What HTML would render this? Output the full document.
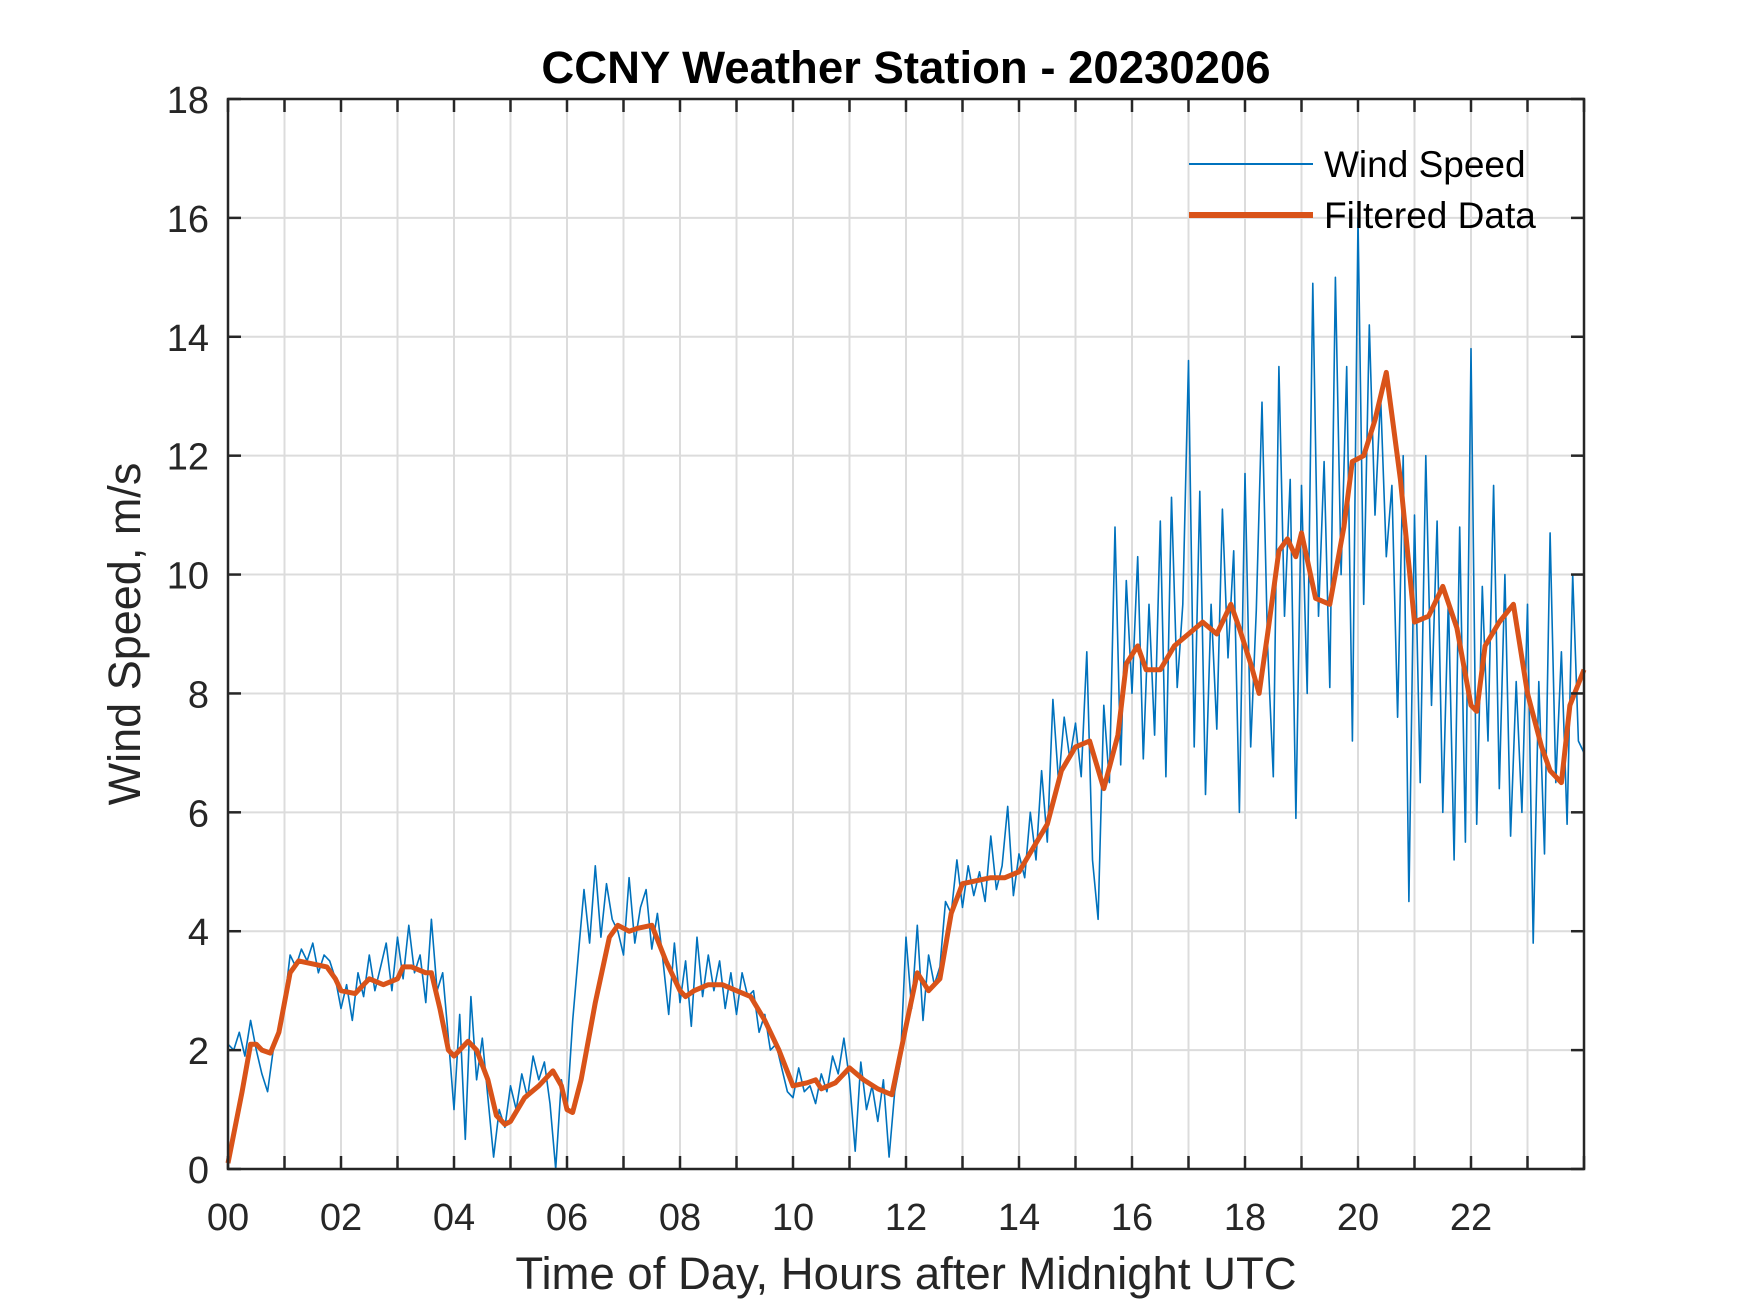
<!DOCTYPE html>
<html><head><meta charset="utf-8"><style>
html,body{margin:0;padding:0;background:#fff;}
svg{display:block;font-family:"Liberation Sans",Arial,sans-serif;}
</style></head><body>
<svg id="chart" width="1750" height="1313" viewBox="0 0 1750 1313">
<rect width="1750" height="1313" fill="#fff"/>
<g id="grid"></g>
<g id="series"></g>
<g id="axes"></g>
<text x="906" y="83" text-anchor="middle" font-size="45.5" font-weight="bold" fill="#000">CCNY Weather Station - 20230206</text>
<text x="906" y="1289" text-anchor="middle" font-size="45.5" fill="#262626">Time of Day, Hours after Midnight UTC</text>
<text transform="translate(140,634) rotate(-90)" text-anchor="middle" font-size="45" fill="#262626">Wind Speed, m/s</text>
<g>
<line x1="1189" y1="164" x2="1313" y2="164" stroke="#0072BD" stroke-width="2"/>
<text x="1324" y="177" font-size="37" fill="#000">Wind Speed</text>
<line x1="1189" y1="215" x2="1313" y2="215" stroke="#D95319" stroke-width="6"/>
<text x="1324" y="228" font-size="37" fill="#000">Filtered Data</text>
</g>
</svg>
<script>
const windValues = [
2.1,2.0,2.3,1.9,2.5,2.0,1.6,1.3,2.0,2.3,
2.8,3.6,3.4,3.7,3.5,3.8,3.3,3.6,3.5,3.2,
2.7,3.1,2.5,3.3,2.9,3.6,3.0,3.4,3.8,3.0,
3.9,3.2,4.1,3.3,3.6,2.8,4.2,3.0,3.3,2.2,
1.0,2.6,0.5,2.9,1.5,2.2,1.2,0.2,1.0,0.7,
1.4,1.0,1.6,1.2,1.9,1.5,1.8,1.1,0.0,1.5,
1.0,2.5,3.6,4.7,3.8,5.1,3.9,4.8,4.2,4.0,
3.6,4.9,3.8,4.4,4.7,3.7,4.3,3.5,2.6,3.8,
2.8,3.5,2.4,3.9,2.9,3.6,3.0,3.5,2.7,3.3,
2.6,3.3,2.9,3.0,2.3,2.6,2.0,2.1,1.7,1.3,
1.2,1.7,1.3,1.4,1.1,1.6,1.3,1.9,1.6,2.2,
1.5,0.3,1.8,1.0,1.4,0.8,1.5,0.2,1.3,1.8,
3.9,2.7,4.1,2.5,3.6,3.1,3.4,4.5,4.3,5.2,
4.4,5.1,4.6,5.0,4.5,5.6,4.7,5.1,6.1,4.6,
5.3,4.9,6.0,5.2,6.7,5.5,7.9,6.5,7.6,6.9,
7.5,6.6,8.7,5.2,4.2,7.8,6.5,10.8,6.8,9.9,
8.0,10.3,6.9,9.5,7.3,10.9,6.6,11.3,8.1,9.5,
13.6,7.1,11.4,6.3,9.5,7.4,11.1,8.6,10.4,6.0,
11.7,7.1,9.4,12.9,8.8,6.6,13.5,9.3,11.6,5.9,
11.5,8.0,14.9,9.3,11.9,8.1,15.0,10.0,13.5,7.2,
16.0,9.5,14.2,11.0,13.0,10.3,11.5,7.6,12.0,4.5,
11.0,6.5,12.0,7.8,10.9,6.0,9.6,5.2,10.8,5.5,
13.8,5.8,9.8,7.2,11.5,6.4,10.0,5.6,8.2,6.0,
9.5,3.8,8.2,5.3,10.7,6.5,8.7,5.8,10.0,7.2,7.0];
const windStep = 0.1;
const filtHours = [0,0.25,0.4,0.5,0.6,0.75,0.9,1.0,1.1,1.25,1.5,1.75,1.9,2.0,2.25,2.4,2.5,2.75,3.0,3.1,3.25,3.5,3.6,3.75,3.9,4.0,4.25,4.4,4.6,4.75,4.9,5.0,5.25,5.5,5.75,5.9,6.0,6.1,6.25,6.5,6.75,6.9,7.1,7.25,7.5,7.75,8.0,8.1,8.25,8.5,8.75,9.0,9.25,9.5,9.75,10.0,10.25,10.4,10.5,10.75,11.0,11.25,11.5,11.75,12.0,12.2,12.4,12.6,12.8,13.0,13.25,13.5,13.75,14.0,14.25,14.5,14.75,15.0,15.25,15.5,15.75,15.9,16.1,16.25,16.5,16.75,17.0,17.25,17.5,17.75,17.9,18.1,18.25,18.4,18.6,18.75,18.9,19.0,19.25,19.5,19.75,19.9,20.1,20.3,20.5,20.75,21.0,21.25,21.5,21.75,22.0,22.1,22.25,22.5,22.75,23.0,23.25,23.4,23.6,23.75,24.0];
const filtValues = [0.1,1.3,2.1,2.1,2.0,1.95,2.3,2.8,3.3,3.5,3.45,3.4,3.2,3.0,2.95,3.1,3.2,3.1,3.2,3.4,3.4,3.3,3.3,2.7,2.0,1.9,2.15,2.0,1.5,0.9,0.75,0.8,1.2,1.4,1.65,1.4,1.0,0.95,1.5,2.8,3.9,4.1,4.0,4.05,4.1,3.5,3.0,2.9,3.0,3.1,3.1,3.0,2.9,2.5,2.0,1.4,1.45,1.5,1.35,1.45,1.7,1.5,1.35,1.25,2.4,3.3,3.0,3.2,4.3,4.8,4.85,4.9,4.9,5.0,5.4,5.8,6.7,7.1,7.2,6.4,7.3,8.5,8.8,8.4,8.4,8.8,9.0,9.2,9.0,9.5,9.1,8.5,8.0,9.0,10.4,10.6,10.3,10.7,9.6,9.5,10.8,11.9,12.0,12.6,13.4,11.6,9.2,9.3,9.8,9.1,7.8,7.7,8.8,9.2,9.5,8.0,7.1,6.7,6.5,7.8,8.4];
const yTicks = [0,2,4,6,8,10,12,14,16,18];
const xTickLabels = ["00","02","04","06","08","10","12","14","16","18","20","22"];

const L=228,R=1584,T=99,B=1169;
const xs = h => L + h/24*(R-L);
const ys = v => B - v/18*(B-T);
const NS="http://www.w3.org/2000/svg";
function mk(tag, attrs, parent){const e=document.createElementNS(NS,tag);for(const k in attrs)e.setAttribute(k,attrs[k]);parent.appendChild(e);return e;}
const grid=document.getElementById('grid'), axes=document.getElementById('axes'), series=document.getElementById('series');
for(let h=1;h<24;h++){
  const g=mk('line',{x1:xs(h),x2:xs(h),y1:T,y2:B,stroke:'#dcdcdc','stroke-width':2},grid);
  
  
}
yTicks.forEach(v=>{
  if(v===0||v===18) return;
  const g=mk('line',{x1:L,x2:R,y1:ys(v),y2:ys(v),stroke:'#dcdcdc','stroke-width':2},grid);
  
  
});
let d='';
windValues.forEach((v,i)=>{d+=(i?'L':'M')+xs(Math.min(i*windStep,24)).toFixed(1)+' '+ys(v).toFixed(1);});
const wl=mk('path',{d:d,fill:'none',stroke:'#0072BD','stroke-width':1.6,'stroke-linejoin':'round'},series);


let d2='';
filtHours.forEach((h,i)=>{d2+=(i?'L':'M')+xs(h).toFixed(1)+' '+ys(filtValues[i]).toFixed(1);});
const fl=mk('path',{d:d2,fill:'none',stroke:'#D95319','stroke-width':5,'stroke-linejoin':'round'},series);


const fr=mk('rect',{x:L,y:T,width:R-L,height:B-T,fill:'none',stroke:'#262626','stroke-width':2.5},axes);


const tl=13;
for(let h=0;h<=24;h++){
  mk('line',{x1:xs(h),x2:xs(h),y1:B,y2:B-tl,stroke:'#262626','stroke-width':2.5},axes);
  mk('line',{x1:xs(h),x2:xs(h),y1:T,y2:T+tl,stroke:'#262626','stroke-width':2.5},axes);
}
xTickLabels.forEach((s,i)=>{
  const t=mk('text',{x:xs(i*2),y:1230,'text-anchor':'middle','font-size':38,fill:'#262626'},axes);
  t.textContent=s;
  
  
});
yTicks.forEach(v=>{
  mk('line',{x1:L,x2:L+tl,y1:ys(v),y2:ys(v),stroke:'#262626','stroke-width':2.5},axes);
  mk('line',{x1:R,x2:R-tl,y1:ys(v),y2:ys(v),stroke:'#262626','stroke-width':2.5},axes);
  const t=mk('text',{x:209,y:ys(v)+14,'text-anchor':'end','font-size':38,fill:'#262626'},axes);
  t.textContent=String(v);
  
  
});
</script>
</body></html>
